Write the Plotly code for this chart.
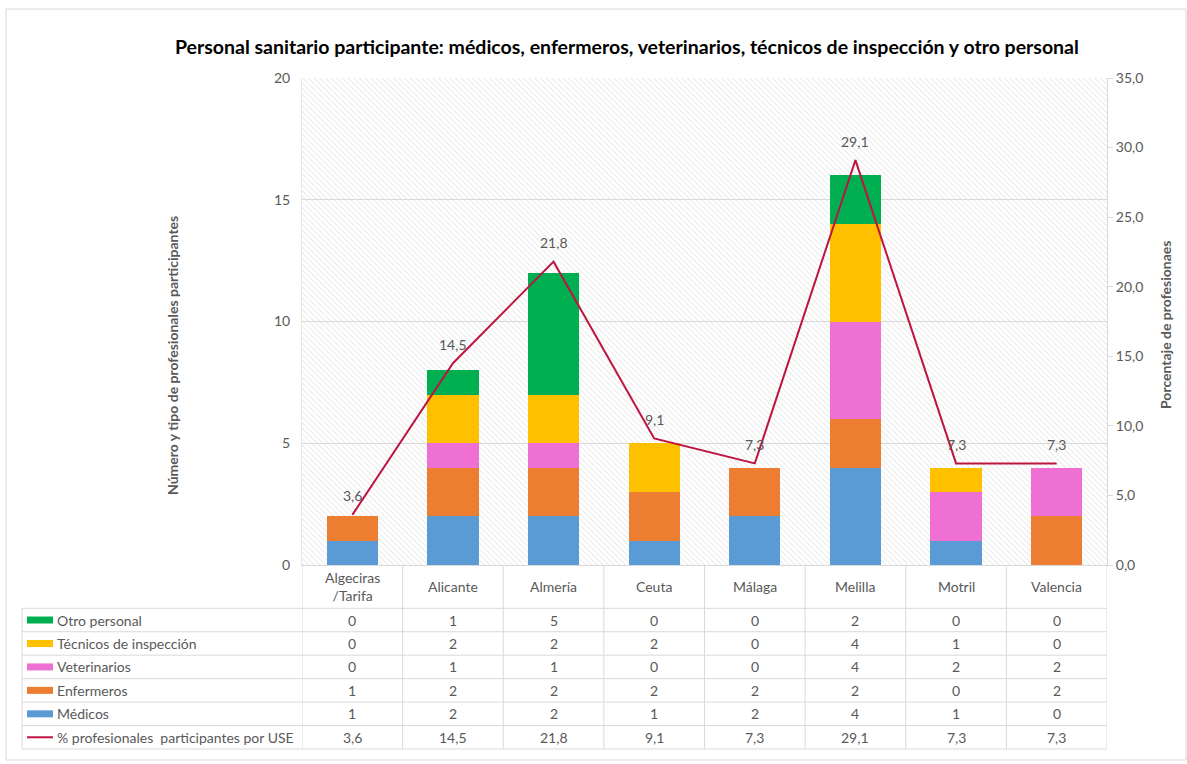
import base64
import plotly.graph_objects as go

# ── Data ─────────────────────────────────────────────────────────────────────
categorias = ["Algeciras<br>/Tarifa", "Alicante", "Almería", "Ceuta",
              "Málaga", "Melilla", "Motril", "Valencia"]
medicos = [1, 2, 2, 1, 2, 4, 1, 0]
enfermeros = [1, 2, 2, 2, 2, 2, 0, 2]
veterinarios = [0, 1, 1, 0, 0, 4, 2, 2]
tecnicos = [0, 2, 2, 2, 0, 4, 1, 0]
otro = [0, 1, 5, 0, 0, 2, 0, 0]
pct_use = [3.6, 14.5, 21.8, 9.1, 7.3, 29.1, 7.3, 7.3]

# ── Style ────────────────────────────────────────────────────────────────────
FONT = "Lato, 'Open Sans', sans-serif"
GRAY = "#595959"
GRID = "#d9d9d9"
LINE_COLOR = "#BE1440"
COLORS = {
    "Otro personal": "#00B050",
    "Técnicos de inspección": "#FFC000",
    "Veterinarios": "#EE70D2",
    "Enfermeros": "#ED7D31",
    "Médicos": "#5B9BD5",
}
FS = 14

# plot area in pixels (1187 x 764 page)
L, R, T, B = 302, 1107, 78, 565
W, H = R - L, B - T


def px(x):
    return (x - L) / W


def py(y):
    return (B - y) / H


def fmt(v):
    return f"{v:.1f}".replace(".", ",")


series = [
    ("Médicos", medicos),
    ("Enfermeros", enfermeros),
    ("Veterinarios", veterinarios),
    ("Técnicos de inspección", tecnicos),
    ("Otro personal", otro),
]

fig = go.Figure()
for name, vals in series:
    fig.add_trace(go.Bar(
        x=categorias, y=vals, name=name,
        marker={"color": COLORS[name], "line": {"width": 0}},
        hovertemplate="%{x}: %{y}<extra>" + name + "</extra>",
    ))

fig.add_trace(go.Scatter(
    x=categorias, y=pct_use, yaxis="y2",
    mode="lines", name="% profesionales  participantes por USE",
    line={"color": LINE_COLOR, "width": 2},
    hovertemplate="%{x}: %{y:.1f}%<extra></extra>",
))

# hatched plot background (light diagonal stripes, top-left to bottom-right)
svg = (
    f'<svg xmlns="http://www.w3.org/2000/svg" width="{W}" height="{H}">'
    '<defs><pattern id="p" width="4" height="4" patternUnits="userSpaceOnUse" '
    'patternTransform="rotate(-45)"><rect width="4" height="4" fill="#ffffff"/>'
    '<line x1="0" y1="0" x2="0" y2="4" stroke="#e3e3e3" stroke-width="1.5"/>'
    '</pattern></defs><rect width="100%" height="100%" fill="url(#p)"/></svg>'
)
bg_src = "data:image/svg+xml;base64," + base64.b64encode(svg.encode()).decode()

shapes = []
annotations = []

# line data labels, lifted above each point
for cat, v in zip(categorias, pct_use):
    annotations.append(dict(x=cat, xref="x", y=v, yref="y2", yshift=19,
                            text=fmt(v), showarrow=False, yanchor="middle",
                            font={"size": FS, "color": GRAY, "family": FONT}))

# outer chart border
shapes.append(dict(type="rect", xref="paper", yref="paper",
                   x0=px(6), x1=px(1186), y0=py(760), y1=py(9),
                   line={"color": GRID, "width": 1}, layer="below"))

# ── Data table under the chart ───────────────────────────────────────────────
row_labels = ["Otro personal", "Técnicos de inspección", "Veterinarios",
              "Enfermeros", "Médicos", "% profesionales  participantes por USE"]
row_values = [otro, tecnicos, veterinarios, enfermeros, medicos,
              [fmt(v) for v in pct_use]]
top, rh = 608.3, 23.45
edges = [top + i * rh for i in range(len(row_labels) + 1)]

for yb in edges:
    shapes.append(dict(type="line", xref="paper", yref="paper",
                       x0=px(22), x1=px(R), y0=py(yb), y1=py(yb),
                       line={"color": GRID, "width": 1}))
shapes.append(dict(type="line", xref="paper", yref="paper",
                   x0=px(22), x1=px(22), y0=py(edges[0]), y1=py(edges[-1]),
                   line={"color": GRID, "width": 1}))
for i in range(len(categorias) + 1):
    shapes.append(dict(type="line", xref="x", yref="paper",
                       x0=i - 0.5, x1=i - 0.5, y0=py(B), y1=py(edges[-1]),
                       line={"color": GRID, "width": 1}))

# category row
for cat in categorias:
    annotations.append(dict(x=cat, xref="x", y=py((B + top) / 2), yref="paper",
                            text=cat, showarrow=False, yanchor="middle",
                            font={"size": FS, "color": GRAY, "family": FONT}))

for r, (lab, vals) in enumerate(zip(row_labels, row_values)):
    yc = (edges[r] + edges[r + 1]) / 2
    if lab in COLORS:
        shapes.append(dict(type="rect", xref="paper", yref="paper",
                           x0=px(27), x1=px(53), y0=py(yc + 3.5), y1=py(yc - 3.5),
                           fillcolor=COLORS[lab], line={"width": 0}))
    else:
        shapes.append(dict(type="line", xref="paper", yref="paper",
                           x0=px(27), x1=px(53), y0=py(yc), y1=py(yc),
                           line={"color": LINE_COLOR, "width": 2}))
    annotations.append(dict(x=px(55), xref="paper", y=py(yc), yref="paper",
                            text=lab, showarrow=False, xanchor="left",
                            yanchor="middle",
                            font={"size": FS, "color": GRAY, "family": FONT}))
    for cat, v in zip(categorias, vals):
        annotations.append(dict(x=cat, xref="x", y=py(yc), yref="paper",
                                text=str(v), showarrow=False, yanchor="middle",
                                font={"size": FS, "color": GRAY, "family": FONT}))

# title and axis titles
annotations.append(dict(x=px(627), xref="paper", y=py(47), yref="paper",
                        text="<b>Personal sanitario participante: médicos, enfermeros, "
                             "veterinarios, técnicos de inspección y otro personal</b>",
                        showarrow=False, yanchor="middle",
                        font={"size": 19.5, "color": "#000000", "family": FONT}))
annotations.append(dict(x=px(172), xref="paper", y=py(356), yref="paper",
                        text="<b>Número y tipo de profesionales participantes</b>",
                        showarrow=False, textangle=-90, xanchor="center",
                        yanchor="middle",
                        font={"size": FS, "color": GRAY, "family": FONT}))
annotations.append(dict(x=px(1165), xref="paper", y=py(325), yref="paper",
                        text="<b>Porcentaje de profesionaes</b>",
                        showarrow=False, textangle=-90, xanchor="center",
                        yanchor="middle",
                        font={"size": FS, "color": GRAY, "family": FONT}))

fig.update_layout(
    width=1187, height=764,
    autosize=False,
    barmode="stack",
    bargap=0.49,
    separators=",.",
    showlegend=False,
    paper_bgcolor="white",
    plot_bgcolor="white",
    font={"family": FONT, "color": GRAY, "size": FS},
    margin={"l": L, "r": 1187 - R, "t": T, "b": 764 - B, "pad": 0},
    xaxis={"showticklabels": False, "showline": True, "linecolor": GRID,
           "range": [-0.5, len(categorias) - 0.5], "fixedrange": True},
    yaxis={"range": [0, 20], "dtick": 5, "showgrid": True, "gridcolor": GRID,
           "zeroline": False, "showline": True, "linecolor": "#e6e6e6",
           "mirror": True, "tickfont": {"size": FS, "color": GRAY},
           "ticklabelstandoff": 8},
    yaxis2={"range": [0, 35], "dtick": 5, "overlaying": "y", "side": "right",
            "tickformat": ".1f", "showgrid": False, "zeroline": False,
            "showline": True, "linecolor": GRID, "ticks": "outside",
            "ticklen": 5, "tickcolor": GRID,
            "tickfont": {"size": FS, "color": GRAY}},
    images=[dict(source=bg_src, xref="paper", yref="paper", x=0, y=1,
                 sizex=1, sizey=1, sizing="stretch", layer="below",
                 xanchor="left", yanchor="top")],
    shapes=shapes,
    annotations=annotations,
)

# drop the default page margin so the figure sits at the window origin
fig.write_html("out.html", config={"displayModeBar": False},
               post_script="document.body.style.margin='0';")
